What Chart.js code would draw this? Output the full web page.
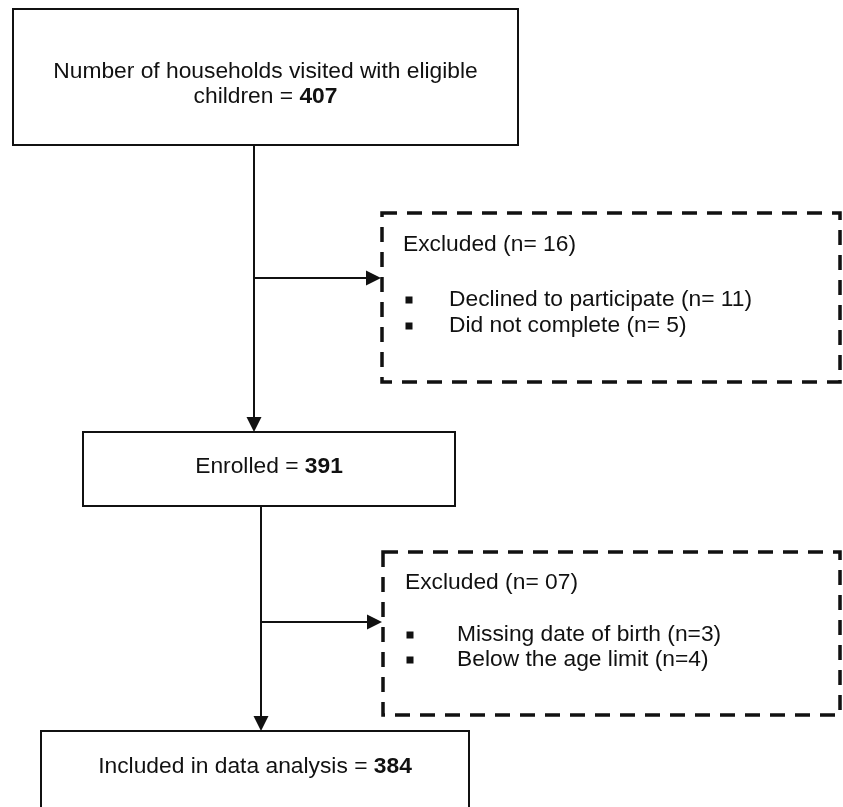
<!DOCTYPE html>
<html>
<head>
<meta charset="utf-8">
<script src="https://cdn.jsdelivr.net/npm/chart.js@4/dist/chart.umd.min.js"></script>
<style>
  html, body { margin: 0; padding: 0; background: #ffffff; }
  #wrap { width: 843px; height: 807px; }
</style>
</head>
<body>
<div id="wrap"><canvas id="c" width="843" height="807"></canvas></div>
<script>
// ---- data ----
const stageLabels = ['Number of households visited with eligible children', 'Enrolled', 'Included in data analysis'];
const stageCounts = [407, 391, 384];
const exclusionTitle = 'Excluded';
const exclusionCounts = [16, 7];
const exclusionReasons = [
  ['Declined to participate', 'Did not complete'],
  ['Missing date of birth', 'Below the age limit']
];
const exclusionReasonCounts = [[11, 5], [3, 4]];

// ---- layout (diagram coordinates, in scale units) ----
const stageBoxes = [
  { x0: 13, y0: 9, x1: 518, y1: 145, lines: ['Number of households visited with eligible', 'children'], ty: [72, 97] },
  { x0: 83, y0: 432, x1: 455, y1: 506, lines: ['Enrolled'], ty: [467] },
  { x0: 41, y0: 731, x1: 469, y1: 830, lines: ['Included in data analysis'], ty: [767] }
];
const exclBoxes = [
  { x0: 382, y0: 213, x1: 840, y1: 382, titleX: 403, titleY: 245, bulletX: 409, textX: 449, rowY: [300, 326], sep: 'n= ' },
  { x0: 383, y0: 552, x1: 840, y1: 715, titleX: 405, titleY: 583, bulletX: 410, textX: 457, rowY: [635, 660], sep: 'n=' }
];
const spines = [
  { x: 254, y0: 145, y1: 432, branchY: 278, branchX1: 381 },
  { x: 261, y0: 506, y1: 731, branchY: 622, branchX1: 382 }
];

const FONT = '"Liberation Sans", Arial, Helvetica, sans-serif';
const FS = 22.8;
const INK = '#111111';

const flowPlugin = {
  id: 'flow',
  afterDraw(chart) {
    const ctx = chart.ctx;
    const X = v => chart.scales.x.getPixelForValue(v);
    const Y = v => chart.scales.y.getPixelForValue(v);
    ctx.save();
    ctx.strokeStyle = INK;
    ctx.fillStyle = INK;

    // solid stage boxes
    ctx.lineWidth = 2;
    ctx.setLineDash([]);
    stageBoxes.forEach(b => {
      ctx.strokeRect(X(b.x0), Y(b.y0), X(b.x1) - X(b.x0), Y(b.y1) - Y(b.y0));
    });

    // dashed exclusion boxes
    ctx.lineWidth = 3.5;
    ctx.setLineDash([15, 10]);
    exclBoxes.forEach(b => {
      ctx.strokeRect(X(b.x0), Y(b.y0), X(b.x1) - X(b.x0), Y(b.y1) - Y(b.y0));
    });
    ctx.setLineDash([]);

    // connectors with arrowheads
    const arrowDown = (x, y) => {
      ctx.beginPath();
      ctx.moveTo(x, y);
      ctx.lineTo(x - 7.5, y - 15);
      ctx.lineTo(x + 7.5, y - 15);
      ctx.closePath();
      ctx.fill();
    };
    const arrowRight = (x, y) => {
      ctx.beginPath();
      ctx.moveTo(x, y);
      ctx.lineTo(x - 15, y - 7.5);
      ctx.lineTo(x - 15, y + 7.5);
      ctx.closePath();
      ctx.fill();
    };
    ctx.lineWidth = 2;
    spines.forEach(s => {
      ctx.beginPath();
      ctx.moveTo(X(s.x), Y(s.y0));
      ctx.lineTo(X(s.x), Y(s.y1) - 8);
      ctx.stroke();
      arrowDown(X(s.x), Y(s.y1));
      ctx.beginPath();
      ctx.moveTo(X(s.x), Y(s.branchY));
      ctx.lineTo(X(s.branchX1) - 8, Y(s.branchY));
      ctx.stroke();
      arrowRight(X(s.branchX1), Y(s.branchY));
    });

    // stage texts
    ctx.textBaseline = 'middle';
    stageBoxes.forEach((b, i) => {
      const cx = (X(b.x0) + X(b.x1)) / 2;
      const n = b.lines.length;
      b.lines.forEach((ln, j) => {
        const isLast = j === n - 1;
        const reg = isLast ? ln + ' = ' : ln;
        const bold = isLast ? String(stageCounts[i]) : '';
        ctx.font = FS + 'px ' + FONT;
        const wReg = ctx.measureText(reg).width;
        ctx.font = 'bold ' + FS + 'px ' + FONT;
        const wBold = ctx.measureText(bold).width;
        let x = cx - (wReg + wBold) / 2;
        ctx.textAlign = 'left';
        ctx.font = FS + 'px ' + FONT;
        ctx.fillText(reg, x, Y(b.ty[j]));
        if (bold) {
          ctx.font = 'bold ' + FS + 'px ' + FONT;
          ctx.fillText(bold, x + wReg, Y(b.ty[j]));
        }
      });
    });

    // exclusion texts
    exclBoxes.forEach((b, i) => {
      ctx.font = FS + 'px ' + FONT;
      ctx.textAlign = 'left';
      const c = exclusionCounts[i];
      ctx.fillText(exclusionTitle + ' (n= ' + (c < 10 ? '0' + c : c) + ')', X(b.titleX), Y(b.titleY));
      exclusionReasons[i].forEach((r, j) => {
        const y = Y(b.rowY[j]);
        ctx.fillRect(X(b.bulletX) - 3.5, y - 3.5, 7, 7);
        ctx.fillText(r + ' (' + b.sep + exclusionReasonCounts[i][j] + ')', X(b.textX), y);
      });
    });
    ctx.restore();
  }
};

new Chart(document.getElementById('c'), {
  type: 'scatter',
  data: { datasets: [{ data: [], pointRadius: 0 }] },
  options: {
    responsive: false,
    animation: false,
    events: [],
    layout: { padding: 0 },
    plugins: { legend: { display: false }, tooltip: { enabled: false }, title: { display: false } },
    scales: {
      x: { type: 'linear', min: 0, max: 843, display: false },
      y: { type: 'linear', min: 0, max: 807, reverse: true, display: false }
    }
  },
  plugins: [flowPlugin]
});
</script>
</body>
</html>
